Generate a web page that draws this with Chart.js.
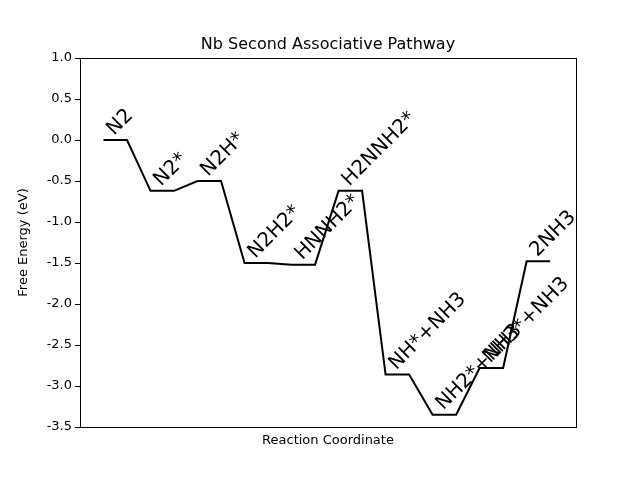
<!DOCTYPE html>
<html lang="en">
<head>
  <meta charset="UTF-8">
  <title>Nb Second Associative Pathway</title>
  <script src="https://cdn.jsdelivr.net/npm/chart.js"></script>
  <style>
    body { margin: 0; background: #fff; }
  </style>
</head>
<body>
<canvas id="fed" width="640" height="480"></canvas>
<script>
  // intermediate states and free energies (eV)
  const states = ['N2', 'N2*', 'N2H*', 'N2H2*', 'HNNH2*', 'H2NNH2*', 'NH*+NH3', 'NH2*+NH3', 'NH3*+NH3', '2NH3'];
  const energies = [0.0, -0.62, -0.50, -1.50, -1.52, -0.62, -2.86, -3.35, -2.78, -1.48];
  const yTicks = [1.0, 0.5, 0.0, -0.5, -1.0, -1.5, -2.0, -2.5, -3.0, -3.5];

  // each state is a flat step from 2i to 2i+1
  const pts = [];
  energies.forEach((e, i) => { pts.push({x: 2 * i, y: e}); pts.push({x: 2 * i + 1, y: e}); });

  const font = "'DejaVu Sans', sans-serif";

  const extras = {
    id: 'extras',
    afterDraw(chart) {
      const c = chart.ctx, a = chart.chartArea;
      const xs = chart.scales.x, ys = chart.scales.y;
      c.save();
      c.strokeStyle = '#000'; c.lineWidth = 1;
      c.strokeRect(a.left + 0.5, a.top + 0.5, a.right - a.left, a.bottom - a.top);
      c.fillStyle = '#000';
      // state labels, rotated 45 deg
      c.font = '20px ' + font;
      c.textBaseline = 'alphabetic'; c.textAlign = 'left';
      states.forEach((s, i) => {
        c.save();
        c.translate(xs.getPixelForValue(2 * i + 0.45), ys.getPixelForValue(energies[i] + 0.05));
        c.rotate(-Math.PI / 4);
        c.fillText(s, 0, 0);
        c.restore();
      });
      // title and axis titles
      c.textAlign = 'center';
      c.font = '16px ' + font;
      c.fillText('Nb Second Associative Pathway', (a.left + a.right) / 2, 49);
      c.font = '13px ' + font;
      c.fillText('Reaction Coordinate', (a.left + a.right) / 2, 444);
      c.save();
      c.translate(27, (a.top + a.bottom) / 2);
      c.rotate(-Math.PI / 2);
      c.fillText('Free Energy (eV)', 0, 0);
      c.restore();
      c.restore();
    }
  };

  new Chart(document.getElementById('fed'), {
    type: 'line',
    data: {
      datasets: [{
        data: pts,
        borderColor: '#000',
        borderWidth: 2,
        pointRadius: 0,
        tension: 0,
        fill: false
      }]
    },
    options: {
      responsive: false,
      animation: false,
      devicePixelRatio: 1,
      layout: { padding: { top: 58, right: 64, left: 0, bottom: 0 } },
      plugins: { legend: { display: false }, tooltip: { enabled: false } },
      scales: {
        x: {
          type: 'linear', min: -1, max: 20.1,
          ticks: { display: false },
          grid: { display: false },
          border: { display: false },
          afterFit(s) { s.height = 53; }
        },
        y: {
          min: -3.5, max: 1.0,
          afterBuildTicks(s) { s.ticks = yTicks.map(v => ({value: v})); },
          ticks: {
            color: '#000', font: { family: font, size: 13 },
            callback: v => v.toFixed(1)
          },
          grid: { drawOnChartArea: false, drawTicks: true, tickLength: 5, color: '#000' },
          border: { display: false },
          afterFit(s) { s.width = 80; }
        }
      }
    },
    plugins: [extras]
  });
</script>
</body>
</html>
